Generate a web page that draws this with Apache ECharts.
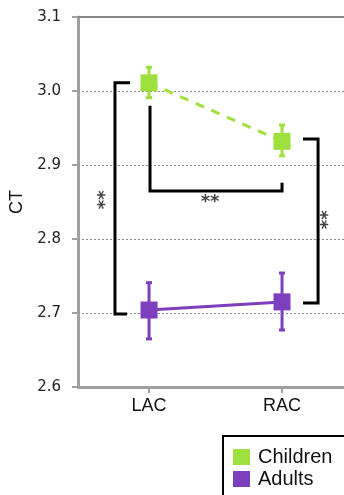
<!DOCTYPE html>
<html>
<head>
<meta charset="utf-8">
<script src="https://cdn.jsdelivr.net/npm/echarts@6/dist/echarts.min.js"></script>
<style>html,body{margin:0;padding:0;background:#fff}#c{width:344px;height:495px}</style>
</head>
<body>
<div id="c"></div>
<script>
// ---- data ----
var categories = ['LAC', 'RAC'];
var categoryPos = [0, 1];
var childrenMean = [3.011, 2.932];
var childrenLow = [2.991, 2.9125];
var childrenHigh = [3.032, 2.954];
var adultsMean = [2.704, 2.715];
var adultsLow = [2.665, 2.677];
var adultsHigh = [2.741, 2.754];
var yTicks = [2.6, 2.7, 2.8, 2.9, 3.0, 3.1];
// significance brackets (data coordinates)
var bracketLeft = [[-0.143, 3.011], [-0.256, 3.011], [-0.256, 2.6986], [-0.165, 2.6986]];
var bracketMid = [[0.0075, 2.98], [0.0075, 2.865], [1.0, 2.865], [1.0, 2.876]];
var bracketRight = [[1.158, 2.935], [1.271, 2.935], [1.271, 2.7135], [1.158, 2.7135]];
var starLabels = [[-0.33, 2.853, 90], [0.459, 2.85, 0], [1.346, 2.826, 90]];

var green = '#9ee03e';
var purple = '#7e3fbf';

function pts(mean) { return categoryPos.map(function (x, i) { return [x, mean[i]]; }); }
function errData(low, high) { return categoryPos.map(function (x, i) { return [x, low[i], high[i]]; }); }

function errRender(color) {
  return function (params, api) {
    var x = api.value(0);
    var lo = api.coord([x, api.value(1)]);
    var hi = api.coord([x, api.value(2)]);
    var cw = 3;
    var st = { stroke: color, lineWidth: 3 };
    return {
      type: 'group',
      children: [
        { type: 'line', shape: { x1: lo[0], y1: lo[1], x2: hi[0], y2: hi[1] }, style: st },
        { type: 'line', shape: { x1: lo[0] - cw, y1: lo[1], x2: lo[0] + cw, y2: lo[1] }, style: st },
        { type: 'line', shape: { x1: hi[0] - cw, y1: hi[1], x2: hi[0] + cw, y2: hi[1] }, style: st }
      ]
    };
  };
}

function bracket(d) {
  return {
    type: 'line', data: d, symbol: 'none', silent: true, z: 1,
    lineStyle: { color: '#000', width: 3, join: 'miter', cap: 'butt' }
  };
}

var chart = echarts.init(document.getElementById('c'), null, { renderer: 'canvas' });
chart.setOption({
  animation: false,
  backgroundColor: '#fff',
  grid: { left: 78, right: 0, top: 17, bottom: 108, containLabel: false },
  legend: {
    data: ['Children', 'Adults'],
    orient: 'vertical',
    left: 223, top: 436, width: 200, height: 120,
    padding: [11, 40, 30, 10],
    borderColor: '#000', borderWidth: 2, borderRadius: 0,
    itemWidth: 17, itemHeight: 16, itemGap: 2,
    icon: 'rect',
    textStyle: { fontFamily: 'Liberation Sans', fontSize: 20, lineHeight: 16, color: '#111', padding: [0, 0, 0, 3] }
  },
  xAxis: [{
    type: 'value',
    min: -0.534, max: 1.466,
    axisLine: { show: true, onZero: false, lineStyle: { color: '#a0a0a0', width: 3 } },
    axisTick: { show: true, customValues: categoryPos, length: 6, lineStyle: { color: '#a0a0a0', width: 2 } },
    axisLabel: {
      customValues: categoryPos, margin: 10,
      formatter: function (v) { return categories[Math.round(v)]; },
      fontFamily: 'Liberation Sans', fontSize: 18, color: '#111'
    },
    splitLine: { show: false }
  }, {
    type: 'value', position: 'top',
    min: -0.534, max: 1.466,
    axisLine: { show: true, onZero: false, lineStyle: { color: '#888', width: 2 } },
    axisTick: { show: false }, axisLabel: { show: false }, splitLine: { show: false }
  }],
  yAxis: {
    type: 'value',
    min: 2.6, max: 3.1, interval: 0.1,
    name: 'CT', nameLocation: 'middle', nameGap: 49, nameRotate: 90,
    nameTextStyle: { fontFamily: 'Liberation Sans', fontSize: 18, color: '#111' },
    axisLine: { show: true, onZero: false, lineStyle: { color: '#a0a0a0', width: 3 } },
    axisTick: { show: true, length: 6, lineStyle: { color: '#a0a0a0', width: 2 } },
    axisLabel: {
      margin: 17, fontFamily: 'DejaVu Sans', fontSize: 15, color: '#222',
      formatter: function (v) { return v.toFixed(1); }
    },
    splitLine: { show: true, lineStyle: { color: '#888', width: 1, type: [2, 2] } }
  },
  series: [
    bracket(bracketLeft),
    bracket(bracketMid),
    bracket(bracketRight),
    {
      type: 'scatter', silent: true, symbolSize: 0, z: 2,
      data: starLabels.map(function (s) {
        return { value: [s[0], s[1]], label: { rotate: s[2] } };
      }),
      label: {
        show: true, position: 'inside', formatter: '**',
        fontFamily: 'DejaVu Sans', fontSize: 18, fontWeight: 'bold', color: '#111'
      }
    },
    {
      name: 'Children', type: 'line', data: pts(childrenMean), z: 3,
      symbol: 'rect', symbolSize: 17, itemStyle: { color: green },
      lineStyle: { color: green, width: 3, type: [9, 8] }
    },
    {
      name: 'Children', type: 'custom', data: errData(childrenLow, childrenHigh), z: 4,
      renderItem: errRender(green), silent: true
    },
    {
      name: 'Adults', type: 'line', data: pts(adultsMean), z: 3,
      symbol: 'rect', symbolSize: 17, itemStyle: { color: purple },
      lineStyle: { color: purple, width: 3 }
    },
    {
      name: 'Adults', type: 'custom', data: errData(adultsLow, adultsHigh), z: 4,
      renderItem: errRender(purple), silent: true
    }
  ]
});
</script>
</body>
</html>
